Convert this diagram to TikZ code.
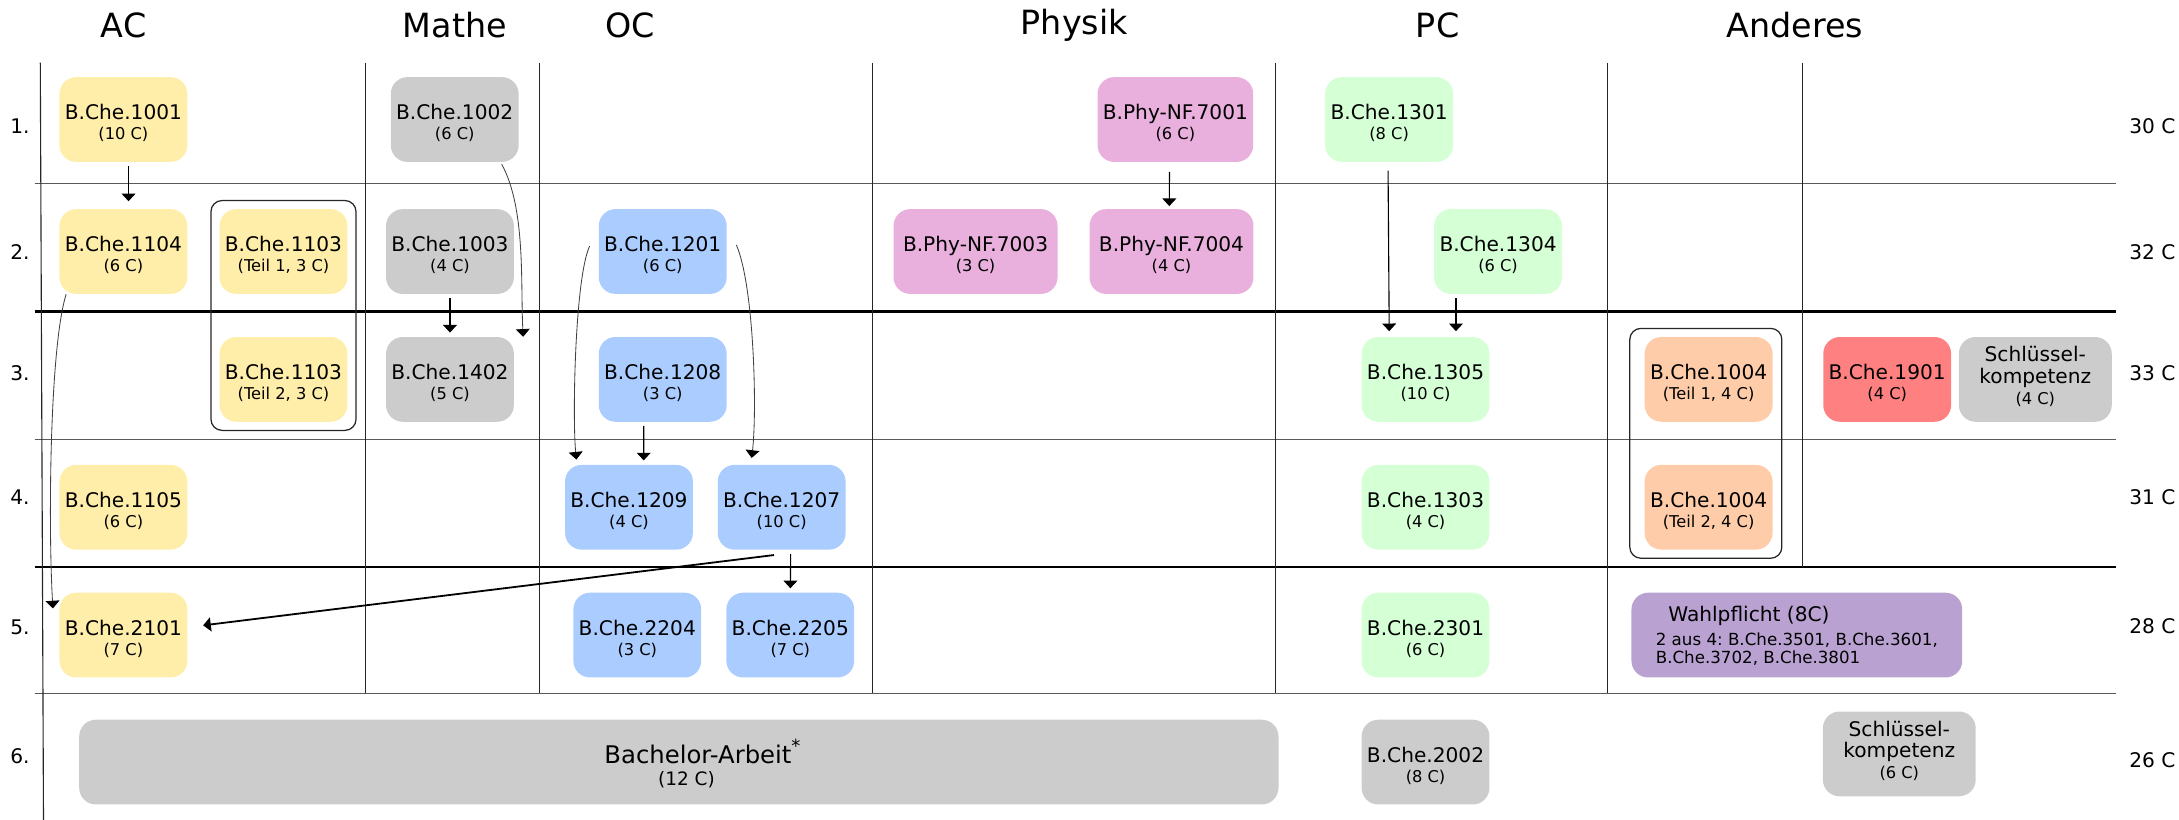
\documentclass[tikz,border=0pt]{standalone}
\usepackage{fontspec}
\setmainfont{DejaVu Sans}
\usetikzlibrary{arrows.meta,fit}

\definecolor{acyellow}{HTML}{FFEEAA}
\definecolor{mathgray}{HTML}{CCCCCC}
\definecolor{ocblue}{HTML}{AACCFF}
\definecolor{phypink}{HTML}{E9AFDD}
\definecolor{pcgreen}{HTML}{D5FFD5}
\definecolor{otherorange}{HTML}{FFCCAA}
\definecolor{otherred}{HTML}{FF8080}
\definecolor{electpurple}{HTML}{B9A1D1}

\newcommand{\credits}[1]{{\fontsize{11.7}{14.5}\selectfont #1}}

\begin{document}
\begin{tikzpicture}[x=1pt, y=-1pt, node distance=92pt,
    module/.style={rounded corners=12pt, minimum width=92pt, minimum height=61pt,
      inner sep=1pt, align=center, text height=29pt, text depth=0pt,
      font=\fontsize{14.5}{14.5}\selectfont},
    ac/.style={module, fill=acyellow},
    ma/.style={module, fill=mathgray},
    oc/.style={module, fill=ocblue},
    phy/.style={module, fill=phypink, minimum width=118pt},
    pc/.style={module, fill=pcgreen},
    other/.style={module, fill=otherorange},
    key skill/.style={module, fill=mathgray, minimum width=110pt, text height=36pt,
      font=\fontsize{14.5}{15.3}\selectfont},
    group box/.style={draw=black!85, line width=0.9pt, rounded corners=8pt, inner sep=6pt},
    head/.style={anchor=base, font=\fontsize{24}{28}\selectfont},
    side/.style={anchor=base, font=\fontsize{14.5}{17}\selectfont},
    thin rule/.style={draw=black!65, line width=0.8pt},
    thick rule/.style={draw=black, line width=1.8pt},
    col rule/.style={draw=black!85, line width=0.8pt},
    arr/.style={-{Triangle[width=10pt,length=5.5pt]}, line width=0.8pt,
      shorten <=3pt, shorten >=3pt},
    soft arr/.style={-{Triangle[width=10pt,length=5.5pt,color=black]}, draw=black!75, line width=0.6pt}]

  \useasboundingbox (0,0) rectangle (1568,590);

  % table rules
  \foreach \y in {132,316,499} \draw[thin rule] (25,\y) -- (1523,\y);
  \foreach \y in {224,408} \draw[thick rule] (25,\y) -- (1523,\y);
  \foreach \x in {263,388,628,918,1157} \draw[col rule] (\x,45) -- (\x,499);
  \draw[col rule] (1297,45) -- (1297,408);
  \draw[col rule] (29,45) -- (31.3,590);

  % column heads
  \node[head] (hAC) at (89,26.9) {AC};
  \node[head] (hMathe) at (327.3,26.9) {Mathe};
  \node[head] (hOC) at (453.5,26.9) {OC};
  \node[head] (hPhysik) at (773,24.7) {Physik};
  \node[head] (hPC) at (1034.5,26.9) {PC};
  \node[head] (hAnderes) at (1291.5,26.9) {Anderes};

  % semesters and credit sums
  \foreach \n/\ys/\c/\yc in {1/96/30/96, 2/186.6/32/186.6, 3/274/33/274,
      4/363/31/363, 5/456.3/28/455.6, 6/549.7/26/552.4} {
    \node[side] (sem\n) at (14.3,\ys) {\n.};
    \node[side] (cred\n) at (1548.8,\yc) {\c\ C};
  }

  % first semester
  \node[ac] (1001) at (88.8,86) {B.Che.1001\\\credits{(10 C)}};
  \node[ma] (1002) at (327.2,86) {B.Che.1002\\\credits{(6 C)}};
  \node[phy, minimum width=112pt] (7001) at (845.8,86) {B.Phy-NF.7001\\\credits{(6 C)}};
  \node[pc] (1301) at (999.6,86) {B.Che.1301\\\credits{(8 C)}};

  % AC
  \node[ac] (1104) at (88.8,181) {B.Che.1104\\\credits{(6 C)}};
  \node[ac, node distance=184pt] (1105) [below of=1104] {B.Che.1105\\\credits{(6 C)}};
  \node[ac] (2101) [below of=1105] {B.Che.2101\\\credits{(7 C)}};
  \node[ac] (1103a) at (204,181) {B.Che.1103\\\credits{(Teil 1, 3 C)}};
  \node[ac] (1103b) [below of=1103a] {B.Che.1103\\\credits{(Teil 2, 3 C)}};

  % Mathe
  \node[ma] (1003) at (323.8,181) {B.Che.1003\\\credits{(4 C)}};
  \node[ma] (1402) [below of=1003] {B.Che.1402\\\credits{(5 C)}};

  % OC
  \node[oc] (1201) at (476.9,181) {B.Che.1201\\\credits{(6 C)}};
  \node[oc] (1208) [below of=1201] {B.Che.1208\\\credits{(3 C)}};
  \node[oc] (1209) at (452.6,365) {B.Che.1209\\\credits{(4 C)}};
  \node[oc] (1207) at (562.5,365) {B.Che.1207\\\credits{(10 C)}};
  \node[oc] (2204) at (458.6,457) {B.Che.2204\\\credits{(3 C)}};
  \node[oc] (2205) at (568.7,457) {B.Che.2205\\\credits{(7 C)}};

  % Physik
  \node[phy] (7003) at (702,181) {B.Phy-NF.7003\\\credits{(3 C)}};
  \node[phy] (7004) at (843,181) {B.Phy-NF.7004\\\credits{(4 C)}};

  % PC
  \node[pc] (1304) at (1078,181) {B.Che.1304\\\credits{(6 C)}};
  \node[pc] (1305) at (1025.8,273) {B.Che.1305\\\credits{(10 C)}};
  \node[pc] (1303) [below of=1305] {B.Che.1303\\\credits{(4 C)}};
  \node[pc] (2301) [below of=1303] {B.Che.2301\\\credits{(6 C)}};
  \node[ma] (2002) at (1025.8,548.4) {B.Che.2002\\\credits{(8 C)}};

  % Anderes
  \node[other] (1004a) at (1229.5,273) {B.Che.1004\\\credits{(Teil 1, 4 C)}};
  \node[other] (1004b) [below of=1004a] {B.Che.1004\\\credits{(Teil 2, 4 C)}};
  \node[module, fill=otherred] (1901) at (1358,273) {B.Che.1901\\\credits{(4 C)}};
  \node[key skill] (sk4) at (1464.6,273) {Schlüssel-\\kompetenz\\\credits{(4 C)}};
  \node[module, fill=electpurple, minimum width=238pt, align=left, text height=41.2pt] (wp) at (1293,457)
    {\hspace*{9pt}Wahlpflicht (8C)\\[3pt]
     {\fontsize{12}{13.2}\selectfont 2 aus 4:\ B.Che.3501, B.Che.3601,}\\[-1.3pt]
     {\fontsize{12}{13.2}\selectfont B.Che.3702, B.Che.3801}};
  \node[key skill] (sk6) at (1366.7,542.5) {Schlüssel-\\kompetenz\\\credits{(6 C)}};

  % thesis
  \node[ma, minimum width=863pt, text height=33pt, font=\fontsize{17.5}{15.7}\selectfont] (ba) at (488.5,548.4)
    {\hspace*{34pt}Bachelor-Arbeit\raisebox{8pt}{\fontsize{13}{13}\selectfont *}\\\hspace*{11pt}{\fontsize{13.3}{15.7}\selectfont (12 C)}};

  % brackets round the split modules
  \node[group box, fit=(1103a)(1103b)] (g1103) {};
  \node[group box, fit=(1004a)(1004b), inner xsep=8.5pt, xshift=-2pt] (g1004) {};

  % straight prerequisites
  \path[arr]
    ([xshift=3.7pt]1001.south) edge[shorten >=5.5pt] ([xshift=3.7pt]1104.north)
    (1003.south) edge (1402.north)
    ([xshift=-13.7pt]1208.south) edge ([xshift=10.6pt]1209.north)
    ([xshift=-4.2pt]7001.south) edge[shorten <=7pt, shorten >=2pt] ([xshift=-1.6pt]7004.north)
    ([xshift=-0.8pt]1301.south) edge[shorten <=6pt, shorten >=4pt] ([xshift=-26.1pt]1305.north)
    ([xshift=-30.3pt]1304.south) edge[shorten >=4pt] ([xshift=21.9pt]1305.north)
    ([xshift=6.5pt]1207.south) edge (2205.north);

  % bent prerequisites
  \draw[soft arr] ([xshift=-12.4pt,yshift=-1.4pt]1002.south east)
    .. controls +(17.5,32) and +(-2,-38) .. ([xshift=6.5pt]1402.north east);
  \draw[soft arr] ([xshift=-6.4pt,yshift=4pt]1201.west)
    .. controls +(-10.6,23) and +(-3,-30) .. ([xshift=8.4pt,yshift=3.6pt]1209.north west);
  \draw[soft arr] ([xshift=6.8pt,yshift=4.7pt]1201.east)
    .. controls +(12.6,29) and +(4,-35) .. ([xshift=-21.6pt,yshift=4.8pt]1207.north);
  \draw[soft arr] ([xshift=5pt]1104.south west)
    .. controls +(-12,38.4) and +(-3.4,-57.7) .. ([xshift=-4.5pt,yshift=-11.5pt]2101.north west);
  \draw[arr, line width=1.3pt, shorten <=0pt, shorten >=0pt]
    ([xshift=-5.5pt,yshift=-3.7pt]1207.south) -- ([xshift=11.2pt,yshift=7pt]2101.east);

\end{tikzpicture}
\end{document}
